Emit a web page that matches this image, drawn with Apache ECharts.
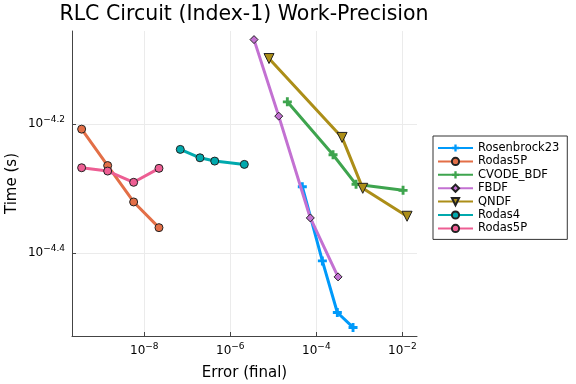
<!DOCTYPE html>
<html>
<head>
<meta charset="utf-8">
<script src="https://cdn.jsdelivr.net/npm/echarts@6/dist/echarts.min.js"></script>
<style>html,body{margin:0;padding:0;background:#fff}#c{width:576px;height:384px}</style>
</head>
<body>
<div id="c"></div>
<script>
// Values are stored as log10 of error (x) and log10 of time in seconds (y)
const xTickExps = [-8, -6, -4, -2];
const yTickExps = [-4.4, -4.2];

const rosenbrock23LogErr = [-4.326, -3.860, -3.512, -3.147];
const rosenbrock23LogTime = [-4.2972, -4.4119, -4.4917, -4.5148];

const rodas5pLogErr = [-9.456, -8.851, -8.247, -7.658];
const rodas5pLogTime = [-4.2082, -4.2645, -4.3208, -4.3605];

const cvodeLogErr = [-4.674, -3.612, -3.077, -1.984];
const cvodeLogTime = [-4.166, -4.2478, -4.2935, -4.3028];

const fbdfLogErr = [-5.449, -4.874, -4.140, -3.495];
const fbdfLogTime = [-4.0698, -4.1881, -4.3455, -4.4366];

const qndfLogErr = [-5.100, -3.402, -2.921, -1.891];
const qndfLogTime = [-4.0991, -4.221, -4.2997, -4.3429];

const rodas4LogErr = [-7.163, -6.705, -6.363, -5.674];
const rodas4LogTime = [-4.2395, -4.2525, -4.2576, -4.2627];

const rodas5pBLogErr = [-9.456, -8.851, -8.247, -7.658];
const rodas5pBLogTime = [-4.2679, -4.273, -4.2904, -4.2688];

const seriesNames = ['Rosenbrock23', 'Rodas5P', 'CVODE_BDF', 'FBDF', 'QNDF', 'Rodas4', 'Rodas5P '];
const colors = ['#009afa', '#e36f47', '#3ea44e', '#c371d2', '#ac8e18', '#00a9ad', '#ed5e93'];

const plusPath = 'path://M3.4,0H6.6V3.4H10V6.6H6.6V10H3.4V6.6H0V3.4H3.4Z';
const zip = (a, b) => a.map((v, i) => [v, b[i]]);

const seriesDefs = [
  {x: rosenbrock23LogErr, y: rosenbrock23LogTime, sym: plusPath, size: 9, stroke: false},
  {x: rodas5pLogErr, y: rodas5pLogTime, sym: 'circle', size: 8, stroke: true},
  {x: cvodeLogErr, y: cvodeLogTime, sym: plusPath, size: 9, stroke: false},
  {x: fbdfLogErr, y: fbdfLogTime, sym: 'diamond', size: 8, stroke: true},
  {x: qndfLogErr, y: qndfLogTime, sym: 'triangle', size: 10, stroke: true, rot: 180},
  {x: rodas4LogErr, y: rodas4LogTime, sym: 'circle', size: 8, stroke: true},
  {x: rodas5pBLogErr, y: rodas5pBLogTime, sym: 'circle', size: 8, stroke: true}
];

function fmtExp(v) {
  const s = (Math.round(v * 10) / 10).toString().replace('-', '\u2212');
  return '{b|10}{s|' + s + '}';
}
const rich = {
  b: {fontSize: 12, fontFamily: 'DejaVu Sans', color: '#000'},
  s: {fontSize: 9, fontFamily: 'DejaVu Sans', color: '#000', padding: [0, 0, 9, 0]}
};

const chart = echarts.init(document.getElementById('c'), null, {renderer: 'canvas'});
chart.setOption({
  animation: false,
  backgroundColor: '#fff',
  title: {
    text: 'RLC Circuit (Index-1) Work-Precision',
    left: 239, top: -1, textAlign: 'center',
    textStyle: {fontSize: 20.5, fontWeight: 'normal', fontFamily: 'DejaVu Sans', color: '#000'}
  },
  grid: {left: 72, right: 159, top: 31, bottom: 48, containLabel: false, outerBoundsMode: 'none'},
  xAxis: {
    type: 'value', min: -9.68, max: -1.66,
    name: 'Error (final)', nameLocation: 'middle', nameGap: 30, nameMoveOverlap: false,
    nameTextStyle: {fontSize: 15, fontFamily: 'DejaVu Sans', color: '#000'},
    axisLine: {onZero: false, lineStyle: {color: '#444', width: 1}},
    axisTick: {inside: true, length: 4, customValues: xTickExps, lineStyle: {color: '#444'}},
    axisLabel: {customValues: xTickExps, formatter: fmtExp, rich: rich, margin: 6},
    splitLine: {show: true, lineStyle: {color: '#ebebeb', width: 1}}
  },
  yAxis: {
    type: 'value', min: -4.528, max: -4.0565,
    name: 'Time (s)', nameLocation: 'middle', nameGap: 52, nameRotate: 90, nameMoveOverlap: false,
    nameTextStyle: {fontSize: 15, fontFamily: 'DejaVu Sans', color: '#000'},
    axisLine: {show: true, onZero: false, lineStyle: {color: '#444', width: 1}},
    axisTick: {show: true, inside: true, length: 4, customValues: yTickExps, lineStyle: {color: '#444'}},
    axisLabel: {customValues: yTickExps, formatter: fmtExp, rich: rich, margin: 7},
    splitLine: {show: true, lineStyle: {color: '#ebebeb', width: 1}}
  },
  legend: {
    orient: 'vertical', left: 433, top: 136,
    data: seriesNames,
    itemWidth: 35, itemHeight: 9, itemGap: 1.4,
    padding: [6, 8, 5, 4],
    borderColor: '#333', borderWidth: 1, borderRadius: 0,
    backgroundColor: '#fff',
    textStyle: {fontSize: 11.5, fontFamily: 'DejaVu Sans', color: '#000'}
  },
  series: seriesDefs.map((d, i) => ({
    type: 'line',
    name: seriesNames[i],
    data: zip(d.x, d.y),
    symbol: d.sym,
    symbolSize: d.size,
    symbolRotate: d.rot || 0,
    showSymbol: true,
    lineStyle: {color: colors[i], width: 3},
    itemStyle: {
      color: colors[i],
      borderColor: d.stroke ? '#222' : colors[i],
      borderWidth: d.stroke ? 1 : 0
    },
    z: 2 + i
  }))
});
</script>
</body>
</html>
